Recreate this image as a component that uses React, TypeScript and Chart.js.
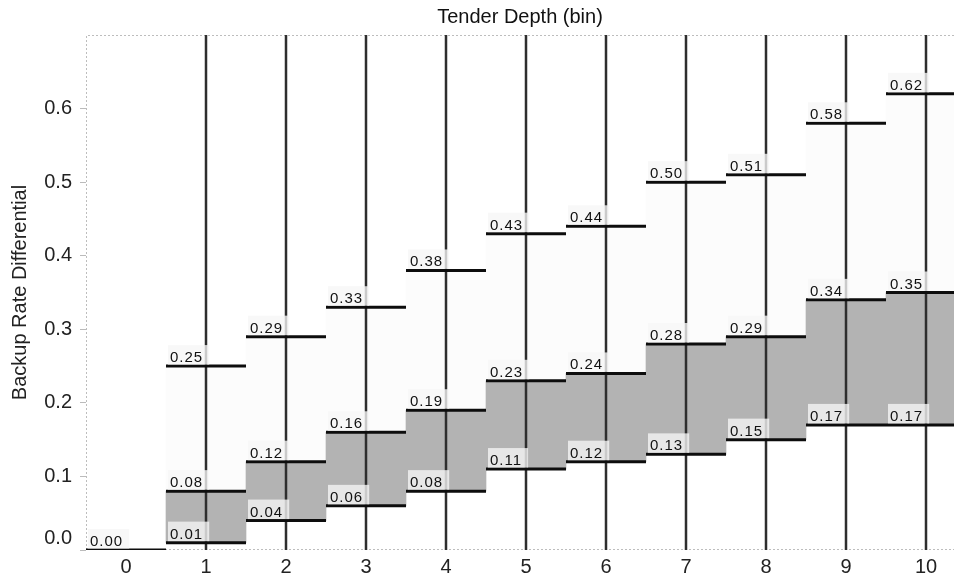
import React, { useEffect, useRef } from 'react';
import { Chart, registerables } from 'chart.js';

Chart.register(...registerables);

// Tender depth bins and the three backup-rate-differential levels per bin
const categories = [0, 1, 2, 3, 4, 5, 6, 7, 8, 9, 10];
const upperValues = [null, 0.25, 0.29, 0.33, 0.38, 0.43, 0.44, 0.5, 0.51, 0.58, 0.62];
const middleValues = [null, 0.08, 0.12, 0.16, 0.19, 0.23, 0.24, 0.28, 0.29, 0.34, 0.35];
const lowerValues = [0.0, 0.01, 0.04, 0.06, 0.08, 0.11, 0.12, 0.13, 0.15, 0.17, 0.17];
const yTickValues = [0, 0.1, 0.2, 0.3, 0.4, 0.5, 0.6];

const Y_MAX = 0.7;
const X_MIN = -0.5;
const X_MAX = 10.35;
const FONT = "'Liberation Sans', Arial, sans-serif";

type Pt = { x: number; y: number | null };

// Horizontal step segment spanning each bin, with gaps between bins
function stepPoints(values: (number | null)[]): Pt[] {
  const pts: Pt[] = [];
  values.forEach((v, i) => {
    if (v == null) return;
    const c = categories[i];
    pts.push({ x: c - 0.5, y: v }, { x: c + 0.5, y: v }, { x: c + 0.5, y: null });
  });
  return pts;
}

function rangeBars(lo: (number | null)[], hi: (number | null)[]) {
  return categories.flatMap((c, i) =>
    lo[i] == null || hi[i] == null ? [] : [{ x: c, y: [lo[i] as number, hi[i] as number] }]
  );
}

// Full-height reference line through each populated bin
function binLines(): Pt[] {
  const pts: Pt[] = [];
  categories.forEach((c, i) => {
    if (upperValues[i] == null) return;
    pts.push({ x: c, y: 0 }, { x: c, y: Y_MAX }, { x: c, y: null });
  });
  return pts;
}

const frame = {
  id: 'frame',
  beforeDatasetsDraw(chart: any) {
    const { ctx, chartArea: a } = chart;
    ctx.save();
    ctx.strokeStyle = '#bdbdbd';
    ctx.lineWidth = 1;
    ctx.setLineDash([2, 2]);
    ctx.beginPath();
    ctx.moveTo(a.right, a.top + 0.5);
    ctx.lineTo(a.left + 0.5, a.top + 0.5);
    ctx.lineTo(a.left + 0.5, a.bottom - 0.5);
    ctx.lineTo(a.right, a.bottom - 0.5);
    ctx.stroke();
    ctx.restore();
  },
};

const valueLabels = {
  id: 'valueLabels',
  afterDatasetsDraw(chart: any) {
    const { ctx, chartArea: a } = chart;
    const xs = chart.scales.x;
    const ys = chart.scales.y;
    ctx.save();
    ctx.beginPath();
    ctx.rect(a.left, a.top, a.right - a.left, a.bottom - a.top);
    ctx.clip();
    ctx.font = `15px ${FONT}`;
    (ctx as any).letterSpacing = '1px';
    ctx.textBaseline = 'alphabetic';
    ctx.textAlign = 'left';
    [upperValues, middleValues, lowerValues].forEach((series) =>
      series.forEach((v, i) => {
        if (v == null) return;
        const left = xs.getPixelForValue(categories[i] - 0.5);
        const py = ys.getPixelForValue(v);
        const text = v.toFixed(2);
        const w = ctx.measureText(text).width;
        ctx.fillStyle = 'rgba(246,246,246,0.78)';
        ctx.fillRect(left + 2, py - 21, w + 8, 19.5);
        ctx.fillStyle = '#111';
        ctx.fillText(text, left + 4, py - 4);
      })
    );
    ctx.restore();
  },
};

export default function App() {
  const ref = useRef<HTMLCanvasElement>(null);

  useEffect(() => {
    if (!ref.current) return;
    Chart.defaults.font.family = FONT;
    const chart = new Chart(ref.current, {
      type: 'bar',
      data: {
        datasets: [
          {
            type: 'bar',
            data: rangeBars(middleValues, upperValues) as any,
            backgroundColor: '#fcfcfc',
            borderWidth: 0,
            grouped: false,
            barPercentage: 1,
            categoryPercentage: 1,
            order: 4,
          } as any,
          {
            type: 'bar',
            data: rangeBars(lowerValues, middleValues) as any,
            backgroundColor: '#b3b3b3',
            borderWidth: 0,
            grouped: false,
            barPercentage: 1,
            categoryPercentage: 1,
            order: 3,
          } as any,
          {
            type: 'line',
            data: binLines() as any,
            borderColor: '#2e2e2e',
            borderWidth: 2.5,
            pointRadius: 0,
            spanGaps: false,
            borderCapStyle: 'butt',
            order: 2,
          } as any,
          ...[upperValues, middleValues, lowerValues].map(
            (vals) =>
              ({
                type: 'line',
                data: stepPoints(vals) as any,
                borderColor: '#0d0d0d',
                borderWidth: 3,
                pointRadius: 0,
                spanGaps: false,
                borderCapStyle: 'butt',
                order: 1,
              } as any)
          ),
        ],
      },
      options: {
        animation: false,
        responsive: false,
        devicePixelRatio: 1,
        layout: { padding: 0 },
        plugins: {
          legend: { display: false },
          tooltip: { enabled: false },
          title: {
            display: true,
            text: 'Tender Depth (bin)',
            fullSize: false,
            color: '#111',
            font: { size: 20, weight: 'normal' },
            padding: { top: 5, bottom: 6 },
          },
        },
        scales: {
          x: {
            type: 'linear',
            min: X_MIN,
            max: X_MAX,
            offset: false,
            afterBuildTicks: (s: any) => {
              s.ticks = categories.map((value) => ({ value }));
            },
            afterFit: (s: any) => {
              s.height = 29;
            },
            grid: { display: false, drawTicks: false },
            border: { display: false },
            ticks: {
              color: '#222',
              font: { size: 20 },
              padding: 5,
              maxRotation: 0,
              callback: (v: any) => String(v),
            },
          },
          y: {
            min: 0,
            max: Y_MAX,
            afterBuildTicks: (s: any) => {
              s.ticks = yTickValues.map((value) => ({ value }));
            },
            afterFit: (s: any) => {
              s.width = 86;
            },
            grid: { drawOnChartArea: false, tickLength: 6, color: '#bbbbbb' },
            border: { display: false },
            ticks: {
              color: '#222',
              font: { size: 20 },
              padding: 8,
              callback: (v: any) => (Number(v) === 0 ? ['0.0', ''] : Number(v).toFixed(1)),
            },
            title: {
              display: true,
              text: 'Backup Rate Differential',
              color: '#222',
              font: { size: 20 },
              padding: { top: 8, bottom: 0 },
            },
          },
        },
      },
      plugins: [frame, valueLabels],
    });
    return () => chart.destroy();
  }, []);

  return (
    <div style={{ position: 'fixed', left: 0, top: 0, width: 954, height: 582, background: '#fff' }}>
      <canvas ref={ref} width={954} height={582} />
    </div>
  );
}
